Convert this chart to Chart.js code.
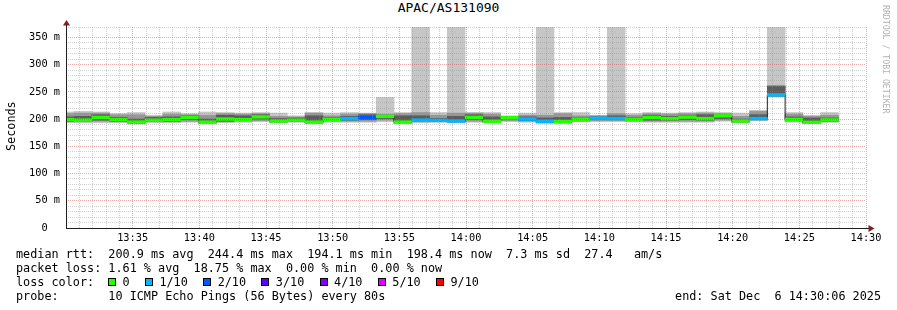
<!DOCTYPE html>
<html><head><meta charset="utf-8">
<script src="https://cdn.jsdelivr.net/npm/chart.js@4"></script>
<style>
html,body{margin:0;padding:0;background:#fff;}
#wrap{position:relative;width:897px;height:310px;overflow:hidden;font-family:"DejaVu Sans Mono",monospace;color:#000;}
#c{position:absolute;left:0;top:0;}
.t{position:absolute;white-space:pre;line-height:14px;font-size:11.8px;}
#title{left:0;width:897px;text-align:center;top:12px;font-size:13px;line-height:15px;}
#ylab{position:absolute;left:4px;top:101px;height:50px;width:14px;font-size:11.8px;line-height:14px;writing-mode:vertical-rl;transform:rotate(180deg);text-align:center;white-space:pre;}
#wm{position:absolute;left:881px;top:5px;font-size:8.2px;line-height:10px;writing-mode:vertical-rl;color:#b3b3b3;white-space:pre;}
#lossrow{position:absolute;left:108px;top:275px;height:14px;display:flex;align-items:center;font-size:11.8px;}
.sq{width:6px;height:6px;border:1px solid #000;margin-right:6.5px;}
.lb{margin-right:15.3px;white-space:pre;}
</style></head><body>
<div id="wrap">
<canvas id="c" width="897" height="310"></canvas>
<div id="title">APAC/AS131090</div>
<div id="ylab">Seconds</div>
<div id="wm">RRDTOOL / TOBI OETIKER</div>
<div class="t" style="left:16px;top:247px">median rtt:  200.9 ms avg  244.4 ms max  194.1 ms min  198.4 ms now  7.3 ms sd  27.4   am/s</div>
<div class="t" style="left:16px;top:261px">packet loss: 1.61 % avg  18.75 % max  0.00 % min  0.00 % now</div>
<div class="t" style="left:16px;top:275px">loss color:</div>
<div id="lossrow"></div>
<div class="t" style="left:16px;top:289px">probe:       10 ICMP Echo Pings (56 Bytes) every 80s</div>
<div class="t" style="right:16px;top:289px">end: Sat Dec  6 14:30:06 2025</div>
</div>
<script>
// ---- data ----
const AXIS_START = '13:30:00';
const STEP_SECONDS = 80;
const segmentStart = ['13:29:16','13:30:36','13:31:56','13:33:16','13:34:36','13:35:56','13:37:16','13:38:36','13:39:56','13:41:16','13:42:36','13:43:56','13:45:16','13:46:36','13:47:56','13:49:16','13:50:36','13:51:56','13:53:16','13:54:36','13:55:56','13:57:16','13:58:36','13:59:56','14:01:16','14:02:36','14:03:56','14:05:16','14:06:36','14:07:56','14:09:16','14:10:36','14:11:56','14:13:16','14:14:36','14:15:56','14:17:16','14:18:36','14:19:56','14:21:16','14:22:36','14:23:56','14:25:16','14:26:36'];
// median rtt (ms)
const medianMs = [199,198,203,199,194.5,198,199,203,194.5,200,199,204,196.5,198,194.5,199.5,201,202.5,205,194.5,198,197.5,196.5,203,196,202.5,200,196,195.5,199,201.5,201,199.5,203,201,203.5,201,206,196.5,201,244.4,199.5,194.1,198.4];
// packet loss per step (tenths)
const lossTenths = [0,0,0,0,0,0,0,0,0,0,0,0,0,0,0,0,1,2,0,0,1,1,1,0,0,0,1,1,0,0,1,1,0,0,0,0,0,0,0,1,1,0,0,0];
// smoke: outer range (min..max ping)
const smokeLo = [193,193,193,193,191,193,193,194,192,193,194,195,193,194,192,194,194,194,195,192,193,194,193,194,193,195,194,192,192,195,195,195,195,194,194,194,194,196,193,197,242,194,192,194];
const smokeHi = [213,214,213,210,212,207,213,210,213,212,211,212,211,206,212,211,212,211,240,212,380,212,380,212,212,206,211,380,212,212,207,380,210,212,211,212,213,212,211,216,380,212,207,212];
// smoke: middle band
const midLo = [195,195,196,195,192,195,195,196,193,195,196,197,194,195,193,196,196,196,198,193,195,195,194,196,194,197,196,193,193,196,197,197,196,196,196,196,196,198,194,198,242,196,192.5,195];
const midHi = [210,211,211,208,208,205,209,208,207,210,209,210,205,204,211,206,209,210,209,210,212,207,211,211,209,205,207,207,210,206,206,210,207,210,209,210,211,210,205,214,262,209,205,207];
// smoke: core band
const coreLo = [196,196,198,196,193,196,196,199,193,196,197,200,195,196,193,197,198,199,201,193,196,196,195,199,195,200,197,194,194,197,199,199,197,198,198,199,198,201,195,199,242,197,193,196];
const coreHi = [204,205,208,203,200,203,204,206,200,207,206,208,201,202,206,203,205,208,207,206,206,201,205,208,204,204,204,202,203,202,204,206,203,207,205,207,208,208,200,208,260,204,202,202];
// y axis labels every 50 ms, x labels every 5 minutes
const yMajorMs = [0,50,100,150,200,250,300,350];
const xTickLabels = ['13:35','13:40','13:45','13:50','13:55','14:00','14:05','14:10','14:15','14:20','14:25','14:30'];
const lossLegendLabels = ['0','1/10','2/10','3/10','4/10','5/10','9/10'];
const lossLegendColors = ['#26ff00','#00b8ff','#0059ff','#5e00ff','#7e00ff','#dd00ff','#ff0000'];

// ---- helpers ----
function secs(s){const p=s.split(':').map(Number);return p[0]*3600+p[1]*60+(p[2]||0);}
const t0 = secs(AXIS_START);
const xCenter = segmentStart.map(s => (secs(s) - t0 + STEP_SECONDS/2) / 60);
function lossColor(l){ if(l<=0) return lossLegendColors[0]; if(l<=5) return lossLegendColors[l]; if(l<9) return lossLegendColors[5]; return lossLegendColors[6]; }

const row = document.getElementById('lossrow');
lossLegendLabels.forEach((lab,i)=>{
  const sq=document.createElement('div'); sq.className='sq'; sq.style.background=lossLegendColors[i]; row.appendChild(sq);
  const t=document.createElement('div'); t.className='lb'; t.textContent=lab; row.appendChild(t);
});

const band = (lo,hi) => xCenter.map((x,i)=>({x:x, y:[lo[i],hi[i]]}));
const medBand = xCenter.map((x,i)=>({x:x, y:[medianMs[i]-2.5, medianMs[i]+2.5]}));
const medLine = xCenter.map((x,i)=>({x:x, y:medianMs[i]}));

const MAJ='rgba(222,79,79,0.5)', MIN='rgba(143,143,143,0.42)';
const tickFont={family:'"DejaVu Sans Mono", monospace', size:10.3};

const axesPlugin = {
  id:'axesPlugin',
  afterDraw(chart){
    const {ctx, chartArea:a, scales:{x,y}} = chart;
    ctx.save();
    const y0 = Math.round(y.getPixelForValue(0))+0.5;
    const x0 = Math.round(x.getPixelForValue(0))+0.5;
    ctx.strokeStyle='#1f1f1f'; ctx.lineWidth=1;
    ctx.beginPath(); ctx.moveTo(x0-0.5,y0); ctx.lineTo(a.right+4,y0); ctx.stroke();
    ctx.beginPath(); ctx.moveTo(x0,y0+0.5); ctx.lineTo(x0,a.top-3); ctx.stroke();
    ctx.fillStyle='#801f1f';
    ctx.beginPath(); ctx.moveTo(a.right+8.5,y0); ctx.lineTo(a.right+2.5,y0-3.5); ctx.lineTo(a.right+2.5,y0+3.5); ctx.closePath(); ctx.fill();
    ctx.beginPath(); ctx.moveTo(x0,a.top-7); ctx.lineTo(x0-3.5,a.top-1.5); ctx.lineTo(x0+3.5,a.top-1.5); ctx.closePath(); ctx.fill();
    ctx.restore();
  }
};

const barCommon = {grouped:false, barPercentage:1, categoryPercentage:1, borderWidth:0, clip:0};
const chart = new Chart(document.getElementById('c'), {
  type:'bar',
  data:{datasets:[
    Object.assign({label:'smoke outer', data:band(smokeLo,smokeHi), backgroundColor:'#c6c6c6', order:6}, barCommon),
    Object.assign({label:'smoke mid', data:band(midLo,midHi), backgroundColor:'#979797', order:5}, barCommon),
    Object.assign({label:'smoke core', data:band(coreLo,coreHi), backgroundColor:'#5c5c5c', order:4}, barCommon),
    {type:'line', label:'median', data:medLine, borderColor:'#202020', borderWidth:1, pointRadius:0, stepped:'middle', fill:false, order:3, clip:0},
    Object.assign({label:'median loss', data:medBand, backgroundColor:(c)=>lossColor(lossTenths[c.dataIndex]), order:2}, barCommon)
  ]},
  options:{
    responsive:false, animation:false, events:[],
    layout:{padding:{left:6,right:31,top:27,bottom:62}},
    plugins:{legend:{display:false}, tooltip:{enabled:false}, title:{display:false}},
    scales:{
      x:{type:'linear', min:0, max:60, offset:false,
        afterFit(s){s.height=20;},
        ticks:{stepSize:1, autoSkip:false, maxRotation:0, minRotation:0, maxTicksLimit:1000, padding:4, color:'#000', font:tickFont,
          callback:(v)=>{ if(v>0 && v%5===0){ return xTickLabels[v/5-1]; } return ''; }},
        grid:{display:true, z:1, drawTicks:false, offset:false, lineWidth:1, color:(c)=> (c.tick && c.tick.value%5===0) ? MAJ : MIN},
        border:{display:false, dash:[1,1]}
      },
      y:{type:'linear', min:0, max:369,
        afterFit(s){s.width=60;},
        ticks:{stepSize:10, autoSkip:false, maxTicksLimit:1000, padding:6, color:'#000', font:tickFont,
          callback:(v)=>{ const k=yMajorMs.indexOf(v); if(k<0) return ''; return v===0 ? '0  ' : v+' m'; }},
        grid:{display:true, z:1, drawTicks:false, lineWidth:1, color:(c)=> (c.tick && c.tick.value%50===0) ? MAJ : MIN},
        border:{display:false, dash:[1,1]}
      }
    }
  },
  plugins:[axesPlugin]
});

// pin the plot area: 13:30 at x=66, 14:30 at x=866, 0 ms at y=228, top at y=27
const pad={left:6,right:31,top:27,bottom:62};
for(let i=0;i<3;i++){
  const a=chart.chartArea;
  pad.left+=66-a.left; pad.right+=a.right-866; pad.top+=27-a.top; pad.bottom+=a.bottom-228;
  chart.options.layout.padding={left:pad.left,right:pad.right,top:pad.top,bottom:pad.bottom};
  const xs=chart.scales.x;
  const bw = xs.getPixelForValue(STEP_SECONDS/60) - xs.getPixelForValue(0);
  chart.data.datasets.forEach(d=>{ if(d.type!=='line') d.barThickness=bw; });
  chart.update('none');
}
</script>
</body></html>
